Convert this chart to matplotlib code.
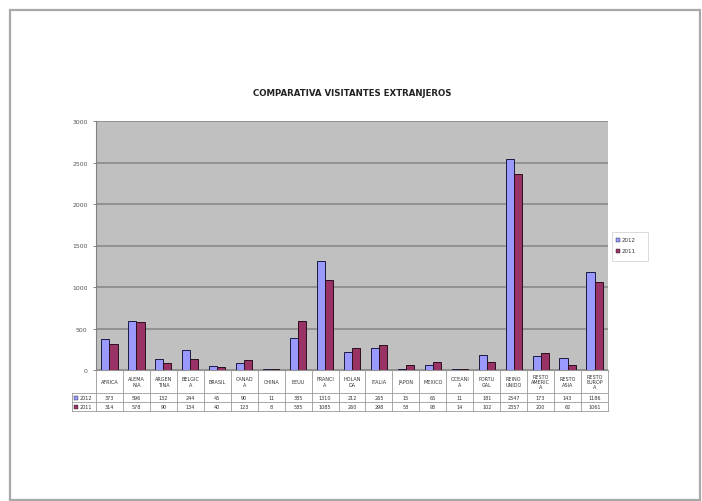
import matplotlib
matplotlib.use("Agg")
import matplotlib.pyplot as plt
from matplotlib.patches import Rectangle
from matplotlib.lines import Line2D
import numpy as np

categories = ["AFRICA", "ALEMA\nNIA", "ARGEN\nTINA", "BELGIC\nA", "BRASIL", "CANAD\nA",
              "CHINA", "EEUU", "FRANCI\nA", "HOLAN\nDA", "ITALIA", "JAPON", "MEXICO",
              "OCEANI\nA", "PORTU\nGAL", "REINO\nUNIDO", "RESTO\nAMERIC\nA", "RESTO\nASIA",
              "RESTO\nEUROP\nA"]
v2012 = [373, 596, 132, 244, 45, 90, 11, 385, 1310, 212, 265, 15, 65, 11, 181, 2547, 173, 143, 1186]
v2011 = [314, 578, 90, 134, 40, 123, 8, 585, 1085, 260, 298, 58, 93, 14, 102, 2357, 200, 62, 1061]
series_names = ["2012", "2011"]
yticks = [0, 500, 1000, 1500, 2000, 2500, 3000]
title = "COMPARATIVA VISITANTES EXTRANJEROS"

W, H = 702, 502
fig = plt.figure(figsize=(W / 100, H / 100), dpi=100)
fig.patch.set_facecolor("white")

def fx(px):
    return px / W

def fy(py):
    return 1 - py / H

# page border
fig.patches.append(Rectangle((fx(10), fy(501)), fx(690), 490 / H, transform=fig.transFigure,
                             fill=False, edgecolor="#a8a8a8", lw=1.6, zorder=0))

L, R, T, B = 96, 608, 122, 371
ax = fig.add_axes([fx(L), fy(B), fx(R - L), (B - T) / H])
ax.set_facecolor("#c0c0c0")
n = len(categories)
x = np.arange(n)
bw = 0.3
c2012 = "#9999ff"
c2011 = "#993366"
ax.bar(x - bw / 2, v2012, width=bw, color=c2012, edgecolor="#1a1a40", lw=0.7, zorder=3)
ax.bar(x + bw / 2, v2011, width=bw, color=c2011, edgecolor="#2a0f1e", lw=0.7, zorder=3)
ax.set_xlim(-0.5, n - 0.5)
ax.set_ylim(0, 3000)
ax.set_yticks(yticks)
ax.set_yticklabels([str(t) for t in yticks], fontsize=4.4, color="#333333")
ax.tick_params(axis="y", length=2, width=0.5, pad=4, colors="#555555")
ax.set_xticks([])
ax.yaxis.grid(True, color="#858585", lw=1.1, zorder=1)
for s in ["top", "right"]:
    ax.spines[s].set_visible(False)
ax.spines["left"].set_color("#808080")
ax.spines["bottom"].set_color("#808080")

fig.text(fx(352), fy(93), title, ha="center", va="center", fontsize=6.2, fontweight="bold",
         color="#222222")

# data table
tc = "#9a9a9a"
rows_y = [371, 394, 403, 412]
cw = (R - L) / n
def hline(x0, x1, y):
    fig.lines.append(Line2D([fx(x0), fx(x1)], [fy(y), fy(y)], transform=fig.transFigure,
                            color=tc, lw=0.6))
def vline(xp, y0, y1):
    fig.lines.append(Line2D([fx(xp), fx(xp)], [fy(y0), fy(y1)], transform=fig.transFigure,
                            color=tc, lw=0.6))
hline(L, R, rows_y[0])
for yy in rows_y[1:]:
    hline(72, R, yy)
for i in range(n + 1):
    vline(L + i * cw, rows_y[0], rows_y[3])
vline(72, rows_y[1], rows_y[3])
for i, cat in enumerate(categories):
    cx = L + (i + 0.5) * cw
    fig.text(fx(cx), fy((rows_y[0] + rows_y[1]) / 2), cat, ha="center", va="center",
             fontsize=3.5, color="#333333", linespacing=1.1)
    fig.text(fx(cx), fy((rows_y[1] + rows_y[2]) / 2), str(v2012[i]), ha="center", va="center",
             fontsize=3.5, color="#333333")
    fig.text(fx(cx), fy((rows_y[2] + rows_y[3]) / 2), str(v2011[i]), ha="center", va="center",
             fontsize=3.5, color="#333333")
for j, (name, col) in enumerate(zip(series_names, [c2012, c2011])):
    yc = (rows_y[1 + j] + rows_y[2 + j]) / 2
    fig.patches.append(Rectangle((fx(74), fy(yc + 2)), fx(4), 4 / H, transform=fig.transFigure,
                                 facecolor=col, edgecolor="#222222", lw=0.3))
    fig.text(fx(80), fy(yc), name, ha="left", va="center", fontsize=3.5, color="#333333")

# legend
fig.patches.append(Rectangle((fx(612), fy(262)), fx(36), 29 / H, transform=fig.transFigure,
                             facecolor="white", edgecolor="#cccccc", lw=0.5))
for j, (name, col) in enumerate(zip(series_names, [c2012, c2011])):
    yc = 241 + j * 11
    fig.patches.append(Rectangle((fx(616), fy(yc + 2)), fx(4), 4 / H, transform=fig.transFigure,
                                 facecolor=col, edgecolor="#222222", lw=0.3))
    fig.text(fx(622), fy(yc), name, ha="left", va="center", fontsize=4, color="#333333")

fig.savefig("out.png", dpi=100, facecolor="white")
